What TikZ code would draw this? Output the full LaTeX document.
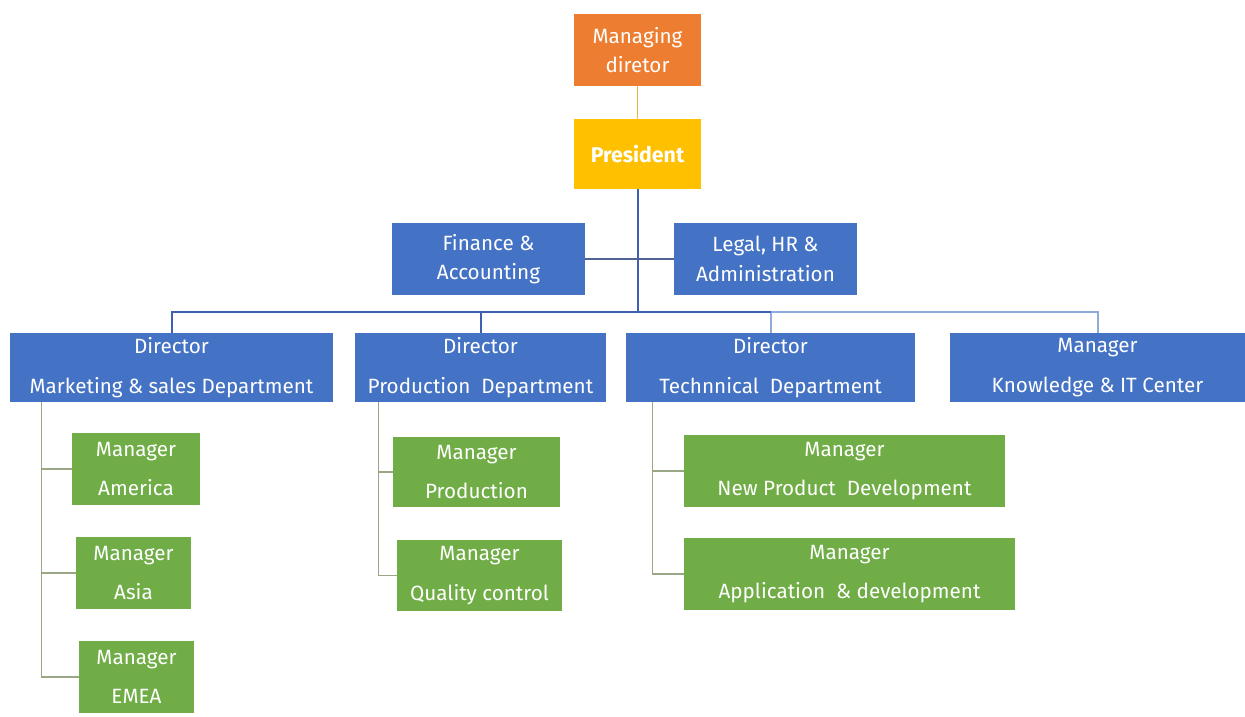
\documentclass[tikz,border=0pt]{standalone}
\usepackage{fontspec}
\setmainfont{Fira Sans}
\definecolor{cblue}{HTML}{4472C4}
\definecolor{cgreen}{HTML}{70AD47}
\definecolor{corange}{HTML}{ED7D31}
\definecolor{cgold}{HTML}{FFC000}
\definecolor{lgold}{HTML}{E6B84A}
\definecolor{busdark}{HTML}{3F60B0}
\definecolor{buslight}{HTML}{8FAADC}
\definecolor{glink}{HTML}{9AA784}
\definecolor{flink}{HTML}{4F6494}
\begin{document}
\begin{tikzpicture}[x=0.75pt,y=-0.75pt,
  box/.style={rectangle,inner sep=0pt,text=white,align=center,font=\fontsize{15.5}{22}\selectfont},
  bluebox/.style={box,fill=cblue},
  greenbox/.style={box,fill=cgreen},
  tall/.style={font=\fontsize{15.5}{29.5}\selectfont},
  bline/.style={line width=1.5pt,busdark},
  lbline/.style={line width=1.5pt,buslight},
  gline/.style={line width=1.1pt,glink}]
\useasboundingbox[fill=white] (0,0) rectangle (1245,717);
% top
\node[box,fill=corange,minimum width=95.25pt,minimum height=54pt] (md) at (637.5,50) {Managing\\diretor};
\node[box,fill=cgold,minimum width=95.25pt,minimum height=52.5pt,font=\fontsize{16}{22}\selectfont\bfseries] (pres) at (637.5,154) {President};
\node[bluebox,minimum width=144.75pt,minimum height=54pt] (fin) at (488.5,259) {Finance \&\\Accounting};
\node[bluebox,minimum width=137.25pt,minimum height=54pt] (legal) at (765.5,259) {Legal, HR \&\\Administration};
% directors
\node[bluebox,tall,minimum width=242.25pt,minimum height=51.75pt] (dm) at (171.5,367.5) {Director\\Marketing \& sales Department};
\node[bluebox,tall,minimum width=188.25pt,minimum height=51.75pt] (dp) at (480.5,367.5) {Director\\Production\ \ Department};
\node[bluebox,tall,minimum width=216.75pt,minimum height=51.75pt] (dt) at (770.5,367.5) {Director\\Technnical\ \ Department};
\node[bluebox,tall,minimum width=221.25pt,minimum height=51.75pt] (mk) at (1097.5,367.5) {Manager\\Knowledge \& IT Center};
% managers
\node[greenbox,tall,minimum width=96pt,minimum height=54pt] (am) at (136,469) {Manager\\America};
\node[greenbox,tall,minimum width=86.25pt,minimum height=54pt] (as) at (133.5,573) {Manager\\Asia};
\node[greenbox,tall,minimum width=86.25pt,minimum height=54pt] (em) at (136.5,677) {Manager\\EMEA};
\node[greenbox,tall,minimum width=125.25pt,minimum height=52.5pt] (mp) at (476.5,472) {Manager\\Production};
\node[greenbox,tall,minimum width=123.75pt,minimum height=53.25pt] (qc) at (479.5,575.5) {Manager\\Quality control};
\node[greenbox,tall,minimum width=240.75pt,minimum height=54pt] (np) at (844.5,471) {Manager\\New Product\ \ Development};
\node[greenbox,tall,minimum width=248.25pt,minimum height=54pt] (ad) at (849.5,574) {Manager\\Application\ \ \& development};
% connectors top
\draw[line width=1pt,lgold] (md.south) -- (pres.north);
\coordinate (bus) at (637.5,312);
\draw[bline] (pres.south) -- (bus);
\draw[line width=1.5pt,flink] (fin.east) -- (legal.west);
\draw[bline] (bus) -| (dm.north);
\draw[bline] (bus) -| (dp.north);
\draw[lbline] (bus) -| (dt.north);
\draw[lbline] (bus) -| (mk.north);
\draw[bline] (bus) -- (bus -| dt.north);
% manager trunks
\coordinate (tm) at ([xshift=24pt]dm.south west);
\draw[gline] (tm) |- (am.west);
\draw[gline] (tm) |- (as.west);
\draw[gline] (tm) |- (em.west);
\coordinate (tp) at ([xshift=18pt]dp.south west);
\draw[gline] (tp) |- (mp.west);
\draw[gline] (tp) |- (qc.west);
\coordinate (tt) at ([xshift=20.25pt]dt.south west);
\draw[gline] (tt) |- (np.west);
\draw[gline] (tt) |- (ad.west);
\end{tikzpicture}
\end{document}
